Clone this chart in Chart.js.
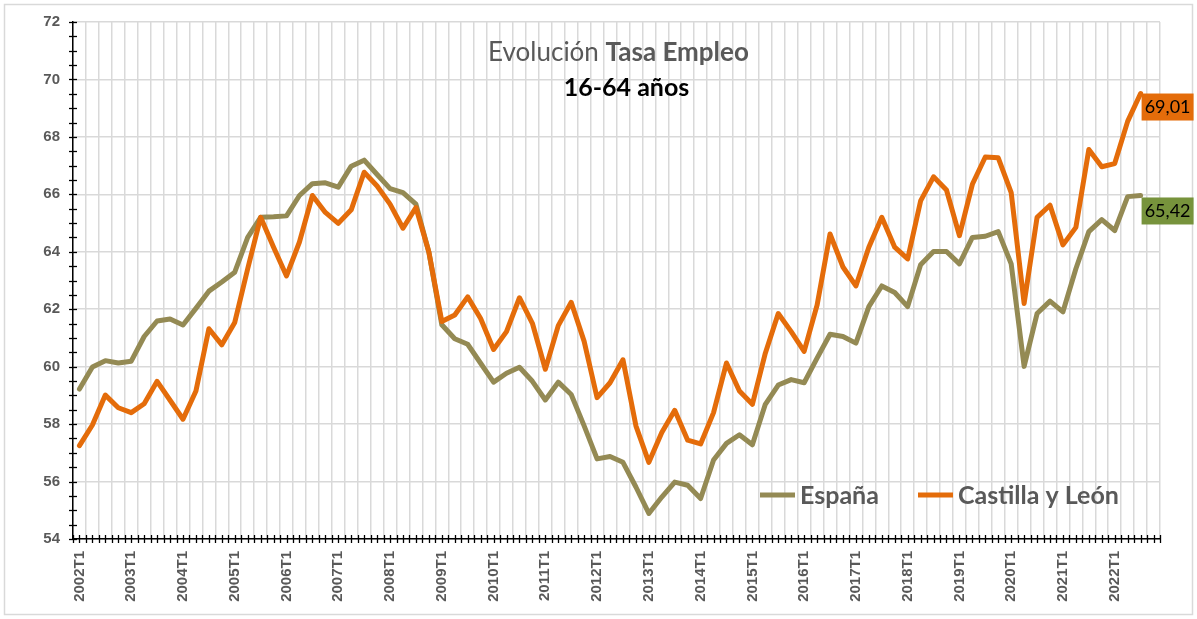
<!DOCTYPE html>
<html>
<head>
<meta charset="utf-8">
<script src="https://cdn.jsdelivr.net/npm/chart.js@4.4.1/dist/chart.umd.min.js"></script>
<style>
  html, body { margin: 0; padding: 0; background: #fff; }
  #wrap { width: 1197px; height: 619px; position: relative; }
</style>
</head>
<body>
<div id="wrap"><canvas id="c" width="1197" height="619"></canvas></div>
<script>
// ---- data ----
const years = [];
for (let y = 2002; y <= 2022; y++) years.push(y);
const quarters = ['T1', 'T2', 'T3', 'T4'];
const categories = [];
years.forEach(y => quarters.forEach(q => categories.push(y + q)));

const espana = [59.22, 59.99, 60.21, 60.13, 60.19, 61.05, 61.59, 61.66, 61.45, 62.03,
  62.63, 62.95, 63.29, 64.50, 65.20, 65.22, 65.25, 65.96, 66.37, 66.40,
  66.25, 66.98, 67.19, 66.69, 66.20, 66.06, 65.66, 63.99, 61.46, 60.97,
  60.78, 60.12, 59.46, 59.77, 59.98, 59.49, 58.84, 59.46, 59.03, 57.94,
  56.79, 56.87, 56.67, 55.81, 54.89, 55.46, 55.98, 55.87, 55.41, 56.75,
  57.33, 57.63, 57.28, 58.69, 59.36, 59.55, 59.44, 60.30, 61.13, 61.05,
  60.82, 62.09, 62.81, 62.58, 62.09, 63.55, 64.01, 64.01, 63.58, 64.50,
  64.54, 64.70, 63.58, 60.01, 61.85, 62.28, 61.91, 63.41, 64.70, 65.12,
  64.74, 65.92, 65.96, null];

const castilla = [57.25, 57.97, 59.01, 58.57, 58.40, 58.71, 59.49, 58.83, 58.17, 59.15,
  61.32, 60.76, 61.54, 63.41, 65.20, 64.16, 63.16, 64.34, 65.96, 65.37,
  64.99, 65.46, 66.77, 66.29, 65.66, 64.82, 65.54, 63.99, 61.57, 61.80,
  62.43, 61.68, 60.60, 61.22, 62.40, 61.51, 59.91, 61.43, 62.24, 60.88,
  58.92, 59.44, 60.24, 57.94, 56.67, 57.71, 58.48, 57.44, 57.31, 58.40,
  60.13, 59.15, 58.69, 60.47, 61.85, 61.22, 60.53, 62.14, 64.62, 63.47,
  62.81, 64.16, 65.20, 64.16, 63.75, 65.77, 66.61, 66.15, 64.56, 66.35,
  67.30, 67.27, 66.06, 62.20, 65.20, 65.62, 64.24, 64.85, 67.56, 66.96,
  67.07, 68.54, 69.51, null];

const seriesNames = ['España', 'Castilla y León'];
const endLabels = ['65,42', '69,01'];
const yTicks = [54, 56, 58, 60, 62, 64, 66, 68, 70, 72];

const COL_ES = '#948A54';
const COL_CYL = '#E46C0A';
const COL_ES_BOX = '#77933C';
const GRAY = '#595959';

// ---- plugins ----
const frame = {
  id: 'frame',
  beforeDraw(chart) {
    const c = chart.ctx;
    c.save();
    c.fillStyle = '#fff';
    c.fillRect(0, 0, chart.width, chart.height);
    c.strokeStyle = '#d9d9d9';
    c.lineWidth = 1.5;
    c.strokeRect(4.5, 4.5, chart.width - 9, chart.height - 9);
    c.restore();
  }
};

const extras = {
  id: 'extras',
  afterDraw(chart) {
    const c = chart.ctx;
    const a = chart.chartArea;
    const xs = chart.scales.x, ys = chart.scales.y;
    c.save();
    // y axis minor ticks every 0.5
    c.strokeStyle = '#000';
    c.lineWidth = 1.3;
    for (let v = 54; v <= 72.001; v += 0.5) {
      const py = Math.round(ys.getPixelForValue(v)) + 0.5;
      c.beginPath(); c.moveTo(a.left - 4, py); c.lineTo(a.left + 4, py); c.stroke();
    }
    // x axis ticks every half category
    const n = categories.length;
    const step = xs.getPixelForValue(1) - xs.getPixelForValue(0);
    for (let i = 0; i <= 2 * n; i++) {
      const px = Math.round(a.left + i * step / 2) + 0.5;
      c.beginPath(); c.moveTo(px, a.bottom - 4); c.lineTo(px, a.bottom + 4); c.stroke();
    }
    // title
    c.textBaseline = 'alphabetic';
    const t1 = 'Evolución ';
    const t2 = 'Tasa Empleo';
    c.font = '26px Lato';
    const w1 = c.measureText(t1).width;
    c.font = 'bold 26px Lato';
    const w2 = c.measureText(t2).width;
    let sx = 618.5 - (w1 + w2) / 2;
    c.fillStyle = GRAY;
    c.font = '26px Lato';
    c.fillText(t1, sx, 61);
    c.font = 'bold 26px Lato';
    c.fillText(t2, sx + w1, 61);
    c.fillStyle = '#000';
    c.font = 'bold 25px Lato';
    c.textAlign = 'center';
    c.fillText('16-64 años', 626.5, 96);
    // legend
    c.textAlign = 'left';
    c.font = 'bold 25px Lato';
    const legendItems = [
      { name: seriesNames[0], color: COL_ES, x0: 760 },
      { name: seriesNames[1], color: COL_CYL, x0: 918 }
    ];
    legendItems.forEach(it => {
      c.strokeStyle = it.color;
      c.lineWidth = 5;
      c.beginPath(); c.moveTo(it.x0, 495); c.lineTo(it.x0 + 35, 495); c.stroke();
      c.fillStyle = GRAY;
      c.fillText(it.name, it.x0 + 40, 504);
    });
    // end-of-series value boxes
    const boxes = [
      { ds: 1, text: endLabels[1], fill: COL_CYL, dy: 0 },
      { ds: 0, text: endLabels[0], fill: COL_ES_BOX, dy: 2 }
    ];
    boxes.forEach(b => {
      const meta = chart.getDatasetMeta(b.ds);
      const data = chart.data.datasets[b.ds].data;
      let last = data.length - 1;
      while (data[last] == null) last--;
      const pt = meta.data[last];
      const bx = pt.x + 1, by = pt.y + b.dy;
      c.fillStyle = b.fill;
      c.fillRect(bx, by, 52, 27);
      c.fillStyle = '#000';
      c.font = '18px Lato';
      c.textAlign = 'center';
      c.textBaseline = 'middle';
      c.fillText(b.text, bx + 26, by + 14);
    });
    c.restore();
  }
};

new Chart(document.getElementById('c'), {
  type: 'line',
  data: {
    labels: categories,
    datasets: [
      { label: seriesNames[0], data: espana, borderColor: COL_ES, borderWidth: 5,
        pointRadius: 0, tension: 0, borderJoinStyle: 'round', borderCapStyle: 'round', order: 1, fill: false },
      { label: seriesNames[1], data: castilla, borderColor: COL_CYL, borderWidth: 5,
        pointRadius: 0, tension: 0, borderJoinStyle: 'round', borderCapStyle: 'round', order: 0, fill: false }
    ]
  },
  options: {
    responsive: false,
    animation: false,
    devicePixelRatio: 1,
    layout: { padding: { top: 18, right: 37, left: 0, bottom: 0 } },
    plugins: { legend: { display: false }, tooltip: { enabled: false }, title: { display: false } },
    scales: {
      x: {
        type: 'category',
        offset: true,
        grid: { offset: true, color: '#d9d9d9', lineWidth: 1.5, drawTicks: false },
        border: { color: '#000', width: 1.5 },
        ticks: {
          autoSkip: false, minRotation: 90, maxRotation: 90, padding: 12,
          color: GRAY, font: { family: 'Liberation Sans', weight: 'bold', size: 15 },
          callback: function (val, idx) { const l = categories[idx]; return l.endsWith('T1') ? l : ''; }
        },
        afterFit(scale) { scale.height = 80; }
      },
      y: {
        min: 54, max: 72,
        afterBuildTicks(scale) { scale.ticks = yTicks.map(v => ({ value: v })); },
        grid: { color: '#d9d9d9', lineWidth: 1.5, drawTicks: false },
        border: { color: '#000', width: 1.5 },
        ticks: {
          padding: 13, color: GRAY,
          font: { family: 'Liberation Sans', weight: 'bold', size: 15 },
          callback: v => String(v)
        },
        afterFit(scale) { scale.width = 73; }
      }
    }
  },
  plugins: [frame, extras]
});
</script>
</body>
</html>
